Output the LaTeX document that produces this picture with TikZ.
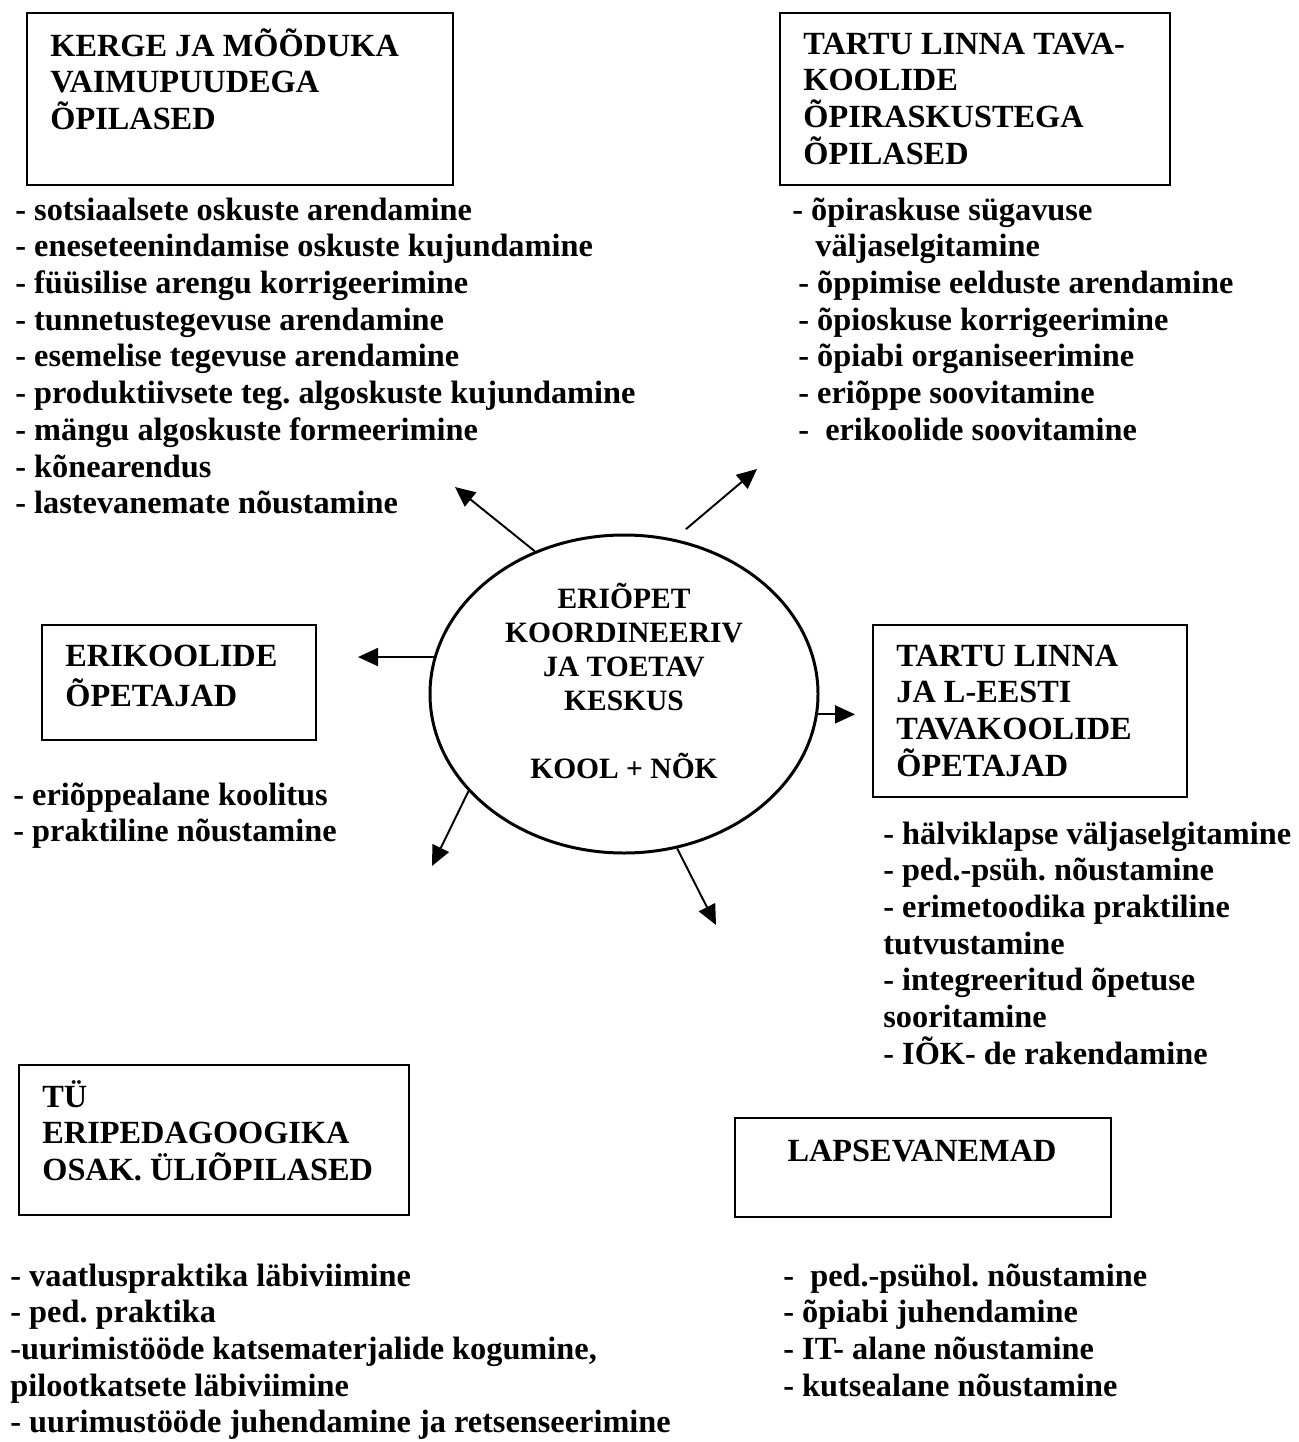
\documentclass[tikz,border=0pt]{standalone}
\usepackage{fontspec}
\setmainfont{Liberation Serif}
\usetikzlibrary{arrows.meta,shapes.geometric}

\begin{document}
\begin{tikzpicture}[x=0.2mm, y=-0.2mm,
  every node/.style={font=\bfseries\frenchspacing\fontsize{18.4}{20.9}\selectfont, inner sep=0pt},
  box/.style={draw, line width=1.6pt},
  head/.style={anchor=north west, align=left},
  items/.style={anchor=north west, align=left},
  ray/.style={-{Triangle[length=4mm,width=3.6mm]}, line width=1.1pt}]
  \useasboundingbox (0,0) rectangle (1299,1442);
  % centre
  \node[draw, ellipse, line width=1.7pt, minimum width=77.6mm, minimum height=63.6mm] (keskus) at (624,694) {};
  \node[align=center, font=\bfseries\fontsize{16.8}{19.4}\selectfont] (keskusText) at (624,681)
    {ERIÕPET\\KOORDINEERIV\\JA TOETAV\\KESKUS\\[19.4pt]KOOL + NÕK};
  % top left: pupils with mental disability
  \node[box, minimum width=85.2mm, minimum height=34.4mm] (kerge) at (240,99) {};
  \node[head] (kergeHead) at (50,28) {\strut KERGE JA MÕÕDUKA\\VAIMUPUUDEGA\\ÕPILASED};
  \node[items] (kergeList) at (15,194) {\strut - sotsiaalsete oskuste arendamine\\
    - eneseteenindamise oskuste kujundamine\\- füüsilise arengu korrigeerimine\\
    - tunnetustegevuse arendamine\\- esemelise tegevuse arendamine\\
    - produktiivsete teg. algoskuste kujundamine\\- mängu algoskuste formeerimine\\
    - kõnearendus\\- lastevanemate nõustamine};
  % top right: pupils with learning difficulties
  \node[box, minimum width=78mm, minimum height=34.4mm] (tava) at (975,99) {};
  \node[head] (tavaHead) at (803,28) {\strut TARTU LINNA TAVA-\\KOOLIDE\\ÕPIRASKUSTEGA\\ÕPILASED};
  \node[items] (tavaList) at (792,194) {\strut - õpiraskuse sügavuse\\
    \hspace*{4.6mm}väljaselgitamine\\\hspace*{1.2mm}- õppimise eelduste arendamine\\
    \hspace*{1.2mm}- õpioskuse korrigeerimine\\\hspace*{1.2mm}- õpiabi organiseerimine\\
    \hspace*{1.2mm}- eriõppe soovitamine\\\hspace*{1.2mm}-~ erikoolide soovitamine};
  % middle left: special school teachers
  \node[box, minimum width=54.8mm, minimum height=23mm] (eri) at (179,682.5) {};
  \node[head] (eriHead) at (65,640) {\strut ERIKOOLIDE\\ÕPETAJAD};
  \node[items] (eriList) at (13,779) {\strut - eriõppealane koolitus\\- praktiline nõustamine};
  % middle right: mainstream teachers
  \node[box, minimum width=62.8mm, minimum height=34.4mm] (opetajad) at (1030,711) {};
  \node[head] (opetajadHead) at (896,640) {\strut TARTU LINNA\\JA L-EESTI\\TAVAKOOLIDE\\ÕPETAJAD};
  \node[items] (opetajadList) at (883,818) {\strut - hälviklapse väljaselgitamine\\
    - ped.-psüh. nõustamine\\- erimetoodika praktiline\\tutvustamine\\
    - integreeritud õpetuse\\sooritamine\\- IÕK- de rakendamine};
  % bottom left: university students
  \node[box, minimum width=78mm, minimum height=30mm] (tu) at (214,1140) {};
  \node[head] (tuHead) at (42,1080) {\strut TÜ\\ERIPEDAGOOGIKA\\OSAK. ÜLIÕPILASED};
  \node[items] (tuList) at (10,1260) {\strut - vaatluspraktika läbiviimine\\- ped. praktika\\
    -uurimistööde katsematerjalide kogumine,\\pilootkatsete läbiviimine\\
    - uurimustööde juhendamine ja retsenseerimine};
  % bottom right: parents
  \node[box, minimum width=75.2mm, minimum height=19.8mm] (vanemad) at (923,1167.5) {};
  \node[anchor=north] (vanemadHead) at (922,1135) {\strut LAPSEVANEMAD};
  \node[items] (vanemadList) at (783,1260) {\strut -~ ped.-psühol. nõustamine\\
    - õpiabi juhendamine\\- IT- alane nõustamine\\- kutsealane nõustamine};
  % arrows out of the centre
  \coordinate (toKerge) at (455,487);
  \coordinate (toTava) at (757,469);
  \coordinate (toEri) at (358,659);
  \coordinate (toOpetajad) at (855,717);
  \coordinate (toTu) at (432,866);
  \coordinate (toVanemad) at (716,925);
  \draw[ray] (keskus.122.7) -- (toKerge);
  \draw[ray, shorten <=3mm] (keskus.72) -- (toTava);
  \draw[ray] (keskus.169.5) -- (toEri |- keskus.169.5);
  \draw[ray] (keskus.-6.8) -- (toOpetajad |- keskus.-6.8);
  \draw[ray] (keskus.212) -- (toTu);
  \draw[ray] (keskus.289.7) -- (toVanemad);
\end{tikzpicture}
\end{document}
